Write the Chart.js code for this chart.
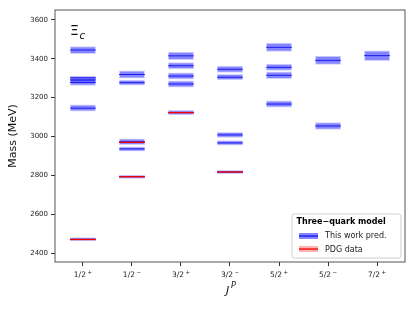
<!DOCTYPE html>
<html>
<head>
<meta charset="utf-8">
<script src="https://cdn.jsdelivr.net/npm/chart.js@4.4.0/dist/chart.umd.min.js"></script>
<style>
    html, body { margin: 0; padding: 0; background: #fff; }
    #wrap { width: 415px; height: 312px; }
</style>
</head>
<body>
<div id="wrap"><canvas id="spectrum" width="415" height="312"></canvas></div>
<script>
/* J^P columns (spin, parity) and mass ticks */
const SPINS    = ['1/2', '1/2', '3/2', '3/2', '5/2', '5/2', '7/2'];
const PARITIES = ['+', '\u2212', '+', '\u2212', '+', '\u2212', '+'];
const Y_TICKS  = [2400, 2600, 2800, 3000, 3200, 3400, 3600];

/* Three-quark model predictions: column, mass, half band (MeV) */
const PRED_COL  = [0, 0, 0, 0, 0, 0,   1, 1, 1, 1, 1,   2, 2, 2, 2, 2,   3, 3, 3, 3, 3,   4, 4, 4, 4,   5, 5,   6];
const PRED_MASS = [3445, 3302, 3291, 3278, 3146, 2471,
                   3319, 3277, 2973, 2936, 2793,
                   3415, 3364, 3311, 3270, 3123,
                   3346, 3305, 3008, 2967, 2817,
                   3459, 3356, 3315, 3167,
                   3392, 3054,
                   3416];
const PRED_ERR  = [20, 10, 11, 17, 18, 10,
                   21, 15, 17, 13, 10,
                   21, 18, 18, 18, 13,
                   18, 16, 15, 13, 10,
                   23, 18, 19, 18,
                   23, 19,
                   27];

/* PDG data */
const PDG_COL  = [0, 1, 1, 2, 3];
const PDG_MASS = [2470, 2970, 2793, 3123, 2817];

const FONT = "'DejaVu Sans', sans-serif";
const LINE_HALF = 2.4;     // half thickness of the prediction centre lines, in MeV
const PDG_HALF  = 3.4;     // half thickness of the PDG lines, in MeV
const BLUE_BAND = 'rgba(0, 0, 255, 0.48)';
const BLUE_EDGE = 'rgba(0, 0, 255, 0.18)';
const BLUE_LINE = 'rgba(0, 0, 230, 0.85)';
const RED_LINE  = 'rgb(245, 0, 0)';

Chart.defaults.font.family = FONT;

function bands(cols, mass, err) {
    return cols.map((c, i) => ({ x: c, y: [mass[i] - err[i], mass[i] + err[i]] }));
}
function lines(cols, mass, half) {
    return cols.map((c, i) => ({ x: c, y: [mass[i] - half, mass[i] + half] }));
}

const common = {
    grouped: false,
    barPercentage: 0.53,
    categoryPercentage: 1
};

/* frame, J^P tick labels, axis label, Xi_c label and legend box */
const decorations = {
    id: 'decorations',
    afterDraw(chart) {
        const { ctx, chartArea: a } = chart;
        const xs = chart.scales.x;
        ctx.save();

        ctx.strokeStyle = '#444';
        ctx.lineWidth = 0.9;
        ctx.strokeRect(a.left, a.top, a.right - a.left, a.bottom - a.top);

        // x tick labels with raised parity sign
        ctx.fillStyle = '#222';
        ctx.textBaseline = 'alphabetic';
        SPINS.forEach((s, i) => {
            const cx = xs.getPixelForValue(i);
            ctx.font = '7.5px ' + FONT;
            const w1 = ctx.measureText(s).width;
            ctx.font = '5.5px ' + FONT;
            const w2 = ctx.measureText(PARITIES[i]).width;
            const x0 = cx - (w1 + 1.5 + w2) / 2;
            ctx.font = '7.5px ' + FONT;
            ctx.fillText(s, x0, a.bottom + 15);
            ctx.font = '5.5px ' + FONT;
            ctx.fillText(PARITIES[i], x0 + w1 + 1.5, a.bottom + 11.5);
        });

        // x axis label J^P
        ctx.fillStyle = '#111';
        ctx.font = 'italic 11px ' + FONT;
        ctx.fillText('J', 226, 294);
        ctx.font = 'italic 8px ' + FONT;
        ctx.fillText('P', 231, 288);

        // Xi_c
        ctx.font = '14px ' + FONT;
        ctx.fillText('Ξ', 70, 35);
        ctx.font = 'italic 10px ' + FONT;
        ctx.fillText('c', 79.5, 39);

        // legend
        ctx.beginPath();
        ctx.roundRect(292, 214, 109, 44, 2);
        ctx.fillStyle = 'rgba(255,255,255,0.85)';
        ctx.fill();
        ctx.strokeStyle = '#d0d0d0';
        ctx.lineWidth = 1;
        ctx.stroke();

        ctx.fillStyle = '#000';
        ctx.textBaseline = 'middle';
        ctx.font = 'bold 8px ' + FONT;
        ctx.fillText('Three\u2212quark model', 296.5, 222);

        ctx.fillStyle = BLUE_BAND;
        ctx.fillRect(299, 233, 19, 6);
        ctx.fillStyle = BLUE_LINE;
        ctx.fillRect(299, 235.4, 19, 1.3);

        ctx.fillStyle = 'rgba(255, 0, 0, 0.3)';
        ctx.fillRect(299, 246, 19, 6);
        ctx.fillStyle = RED_LINE;
        ctx.fillRect(299, 248.4, 19, 1.3);

        ctx.fillStyle = '#222';
        ctx.font = '8px ' + FONT;
        ctx.fillText('This work pred.', 325, 236);
        ctx.fillText('PDG data', 325, 249.5);

        ctx.restore();
    }
};

new Chart(document.getElementById('spectrum').getContext('2d'), {
    type: 'bar',
    data: {
        datasets: [
            {
                ...common,
                data: bands(PRED_COL, PRED_MASS, PRED_ERR),
                backgroundColor: BLUE_BAND,
                borderColor: BLUE_EDGE,
                borderWidth: 1,
                borderSkipped: false,
                order: 4
            },
            {
                ...common,
                data: lines(PRED_COL, PRED_MASS, LINE_HALF),
                backgroundColor: BLUE_LINE,
                borderWidth: 0,
                order: 3
            },
            {
                ...common,
                data: lines(PDG_COL, PDG_MASS, PDG_HALF),
                backgroundColor: RED_LINE,
                borderWidth: 0,
                order: 1
            }
        ]
    },
    options: {
        responsive: false,
        animation: false,
        layout: { padding: { top: 10, right: 10, left: 0, bottom: 0 } },
        plugins: {
            legend: { display: false },
            tooltip: { enabled: false }
        },
        scales: {
            x: {
                type: 'linear',
                min: -0.57,
                max: 6.57,
                offset: false,
                afterBuildTicks: s => { s.ticks = SPINS.map((_, i) => ({ value: i })); },
                afterFit: s => { s.height = 50; },
                ticks: { display: false },
                grid: { display: true, offset: false, drawOnChartArea: false, drawTicks: true, tickLength: 4, color: '#333' },
                border: { display: false }
            },
            y: {
                min: 2354,
                max: 3651,
                afterBuildTicks: s => { s.ticks = Y_TICKS.map(v => ({ value: v })); },
                afterFit: s => { s.width = 55; },
                ticks: { font: { family: FONT, size: 7 }, color: '#222', padding: 3, callback: v => String(v) },
                grid: { display: true, drawOnChartArea: false, drawTicks: true, tickLength: 4, color: '#333' },
                border: { display: false },
                title: {
                    display: true,
                    text: 'Mass (MeV)',
                    color: '#111',
                    font: { family: FONT, size: 11 },
                    padding: { top: 7, bottom: 0 }
                }
            }
        }
    },
    plugins: [decorations]
});
</script>
</body>
</html>
